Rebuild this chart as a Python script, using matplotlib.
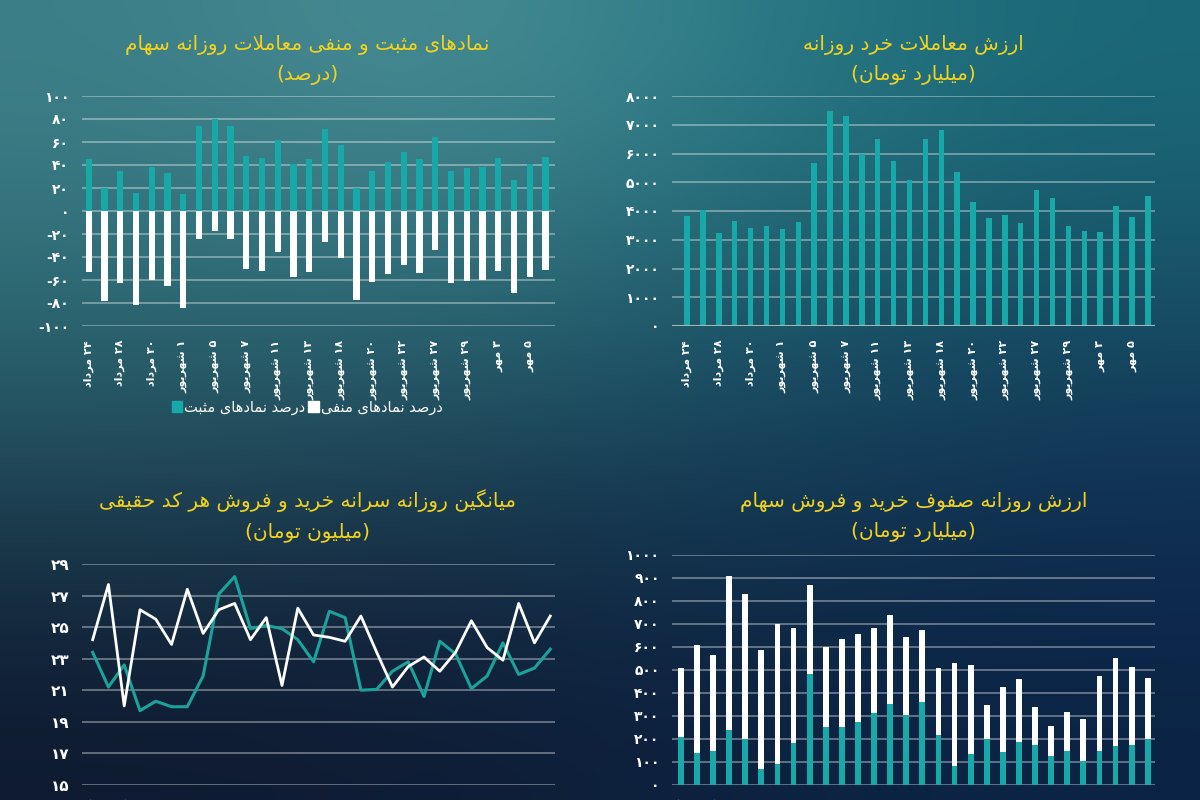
import numpy as np
import matplotlib
matplotlib.use("Agg")
import matplotlib.pyplot as plt
from matplotlib.patches import Patch
from matplotlib.ticker import FuncFormatter

plt.rcParams['font.family'] = ['DejaVu Sans']

# ---------------- data ----------------
DATE_LABELS = ["24 مرداد", "28 مرداد", "30 مرداد", "1 شهریور", "5 شهریور",
               "7 شهریور", "11 شهریور", "13 شهریور", "18 شهریور", "20 شهریور",
               "22 شهریور", "27 شهریور", "29 شهریور", "3 مهر", "5 مهر"]
N_DAYS = 30

positive_pct = [45, 20, 35, 16, 38, 33, 15, 74, 80, 74, 48, 46, 62, 41, 45,
                71, 57, 20, 35, 43, 51, 45, 64, 35, 37, 38, 46, 27, 41, 47]
negative_pct = [-53, -78, -63, -82, -60, -65, -84, -24, -17, -24, -50, -52, -36, -57, -53,
                -27, -41, -77, -62, -55, -47, -54, -34, -63, -61, -60, -52, -71, -57, -51]

retail_value = [3830, 4040, 3240, 3650, 3410, 3480, 3380, 3620, 5670, 7480,
                7300, 5980, 6500, 5740, 5080, 6500, 6820, 5360, 4310, 3760,
                3860, 3580, 4730, 4450, 3480, 3300, 3270, 4170, 3790, 4520]

per_capita_buy = [23.4, 21.2, 22.6, 19.7, 20.3, 19.95, 19.95, 21.9, 27.1, 28.2,
                  24.9, 25.1, 24.9, 24.2, 22.8, 26.0, 25.6, 21.0, 21.05, 22.2,
                  22.8, 20.6, 24.1, 23.3, 21.1, 21.9, 24.0, 22.0, 22.4, 23.6]
per_capita_sell = [24.2, 27.7, 20.0, 26.1, 25.5, 23.9, 27.4, 24.6, 26.1, 26.5,
                   24.2, 25.6, 21.3, 26.2, 24.5, 24.35, 24.1, 25.7, 23.4, 21.2,
                   22.5, 23.1, 22.2, 23.4, 25.4, 23.7, 22.9, 26.5, 24.0, 25.7]

buy_queue = [208, 137, 149, 240, 201, 69, 90, 182, 483, 253,
             253, 274, 311, 353, 302, 359, 217, 81, 133, 197,
             142, 188, 175, 124, 149, 104, 149, 168, 174, 201]
sell_queue = [300, 469, 417, 666, 628, 516, 608, 501, 387, 348,
              381, 382, 371, 385, 339, 315, 290, 449, 389, 152,
              285, 271, 161, 131, 166, 180, 323, 382, 340, 264]

TITLES = [
    "نمادهای مثبت و منفی معاملات روزانه سهام\n(درصد)",
    "ارزش معاملات خرد روزانه\n(میلیارد تومان)",
    "میانگین روزانه سرانه خرید و فروش هر کد حقیقی\n(میلیون تومان)",
    "ارزش روزانه صفوف خرید و فروش سهام\n(میلیارد تومان)",
]
LEGEND_LABELS = ["درصد نمادهای مثبت", "درصد نمادهای منفی"]

TEAL = "#17a9a8"
LINE_TEAL = "#1aa39a"
YELLOW = "#f1d21d"

# ---------------- persian shaping (no reshaper lib available) ----------------
FORMS = {
    'ا': ('\uFE8D', '\uFE8E', None, None), 'آ': ('\uFE81', '\uFE82', None, None),
    'ب': ('\uFE8F', '\uFE90', '\uFE91', '\uFE92'), 'پ': ('\uFB56', '\uFB57', '\uFB58', '\uFB59'),
    'ت': ('\uFE95', '\uFE96', '\uFE97', '\uFE98'), 'ث': ('\uFE99', '\uFE9A', '\uFE9B', '\uFE9C'),
    'ج': ('\uFE9D', '\uFE9E', '\uFE9F', '\uFEA0'), 'چ': ('\uFB7A', '\uFB7B', '\uFB7C', '\uFB7D'),
    'ح': ('\uFEA1', '\uFEA2', '\uFEA3', '\uFEA4'), 'خ': ('\uFEA5', '\uFEA6', '\uFEA7', '\uFEA8'),
    'د': ('\uFEA9', '\uFEAA', None, None), 'ذ': ('\uFEAB', '\uFEAC', None, None),
    'ر': ('\uFEAD', '\uFEAE', None, None), 'ز': ('\uFEAF', '\uFEB0', None, None),
    'ژ': ('\uFB8A', '\uFB8B', None, None),
    'س': ('\uFEB1', '\uFEB2', '\uFEB3', '\uFEB4'), 'ش': ('\uFEB5', '\uFEB6', '\uFEB7', '\uFEB8'),
    'ص': ('\uFEB9', '\uFEBA', '\uFEBB', '\uFEBC'), 'ض': ('\uFEBD', '\uFEBE', '\uFEBF', '\uFEC0'),
    'ط': ('\uFEC1', '\uFEC2', '\uFEC3', '\uFEC4'), 'ظ': ('\uFEC5', '\uFEC6', '\uFEC7', '\uFEC8'),
    'ع': ('\uFEC9', '\uFECA', '\uFECB', '\uFECC'), 'غ': ('\uFECD', '\uFECE', '\uFECF', '\uFED0'),
    'ف': ('\uFED1', '\uFED2', '\uFED3', '\uFED4'), 'ق': ('\uFED5', '\uFED6', '\uFED7', '\uFED8'),
    'ک': ('\uFB8E', '\uFB8F', '\uFB90', '\uFB91'), 'گ': ('\uFB92', '\uFB93', '\uFB94', '\uFB95'),
    'ل': ('\uFEDD', '\uFEDE', '\uFEDF', '\uFEE0'), 'م': ('\uFEE1', '\uFEE2', '\uFEE3', '\uFEE4'),
    'ن': ('\uFEE5', '\uFEE6', '\uFEE7', '\uFEE8'), 'ه': ('\uFEE9', '\uFEEA', '\uFEEB', '\uFEEC'),
    'و': ('\uFEED', '\uFEEE', None, None), 'ی': ('\uFBFC', '\uFBFD', '\uFBFE', '\uFBFF'),
}
FA_DIGITS = str.maketrans("0123456789", "۰۱۲۳۴۵۶۷۸۹")
DIGITS = set("۰۱۲۳۴۵۶۷۸۹0123456789")


def dual(c):
    return c in FORMS and FORMS[c][2] is not None


def shape_line(line):
    chars = list(line.translate(FA_DIGITS))
    out = []
    i = 0
    while i < len(chars):
        c = chars[i]
        prev = chars[i - 1] if i > 0 else None
        nxt = chars[i + 1] if i + 1 < len(chars) else None
        jp = dual(prev)
        if c == 'ل' and nxt == 'ا':
            out.append('\uFEFC' if jp else '\uFEFB')
            i += 2
            continue
        if c not in FORMS:
            out.append(c)
        else:
            jn = dual(c) and nxt in FORMS
            iso, fin, ini, med = FORMS[c]
            if jp and jn:
                out.append(med)
            elif jp:
                out.append(fin)
            elif jn:
                out.append(ini)
            else:
                out.append(iso)
        i += 1
    vis = out[::-1]
    vis = [{'(': ')', ')': '('}.get(ch, ch) for ch in vis]
    # put digit runs back in LTR order
    res, run = [], []
    for ch in vis + [None]:
        if ch is not None and ch in DIGITS:
            run.append(ch)
        else:
            res.extend(run[::-1])
            run = []
            if ch is not None:
                res.append(ch)
    return ''.join(res)


def fa(text):
    return '\n'.join(shape_line(s) for s in text.split('\n'))


def fa_num(v, pos=None):
    v = int(round(v))
    s = str(abs(v)).translate(FA_DIGITS)
    return ('-' + s) if v < 0 else s


# ---------------- figure & background ----------------
fig = plt.figure(figsize=(12, 8), dpi=100)
bg = fig.add_axes([0, 0, 1, 1], zorder=-10)
grad = np.array([
    [[61, 127, 136], [74, 142, 150], [43, 123, 134], [26, 104, 120]],
    [[44, 106, 116], [46, 108, 118], [28, 90, 108], [24, 80, 102]],
    [[30, 64, 82], [26, 56, 78], [20, 56, 82], [16, 46, 82]],
    [[14, 26, 48], [15, 28, 54], [12, 34, 64], [11, 36, 70]],
]) / 255.0
bg.imshow(grad, extent=[0, 1, 0, 1], aspect='auto', interpolation='bicubic', origin='upper')
bg.set_xlim(0, 1)
bg.set_ylim(0, 1)
bg.axis('off')

x = np.arange(N_DAYS)
tick_pos = x[::2]
tick_lab = [fa(s) for s in DATE_LABELS]


def style(ax, ylim, yticks, xlim):
    ax.set_facecolor('none')
    for s in ax.spines.values():
        s.set_visible(False)
    ax.set_ylim(*ylim)
    ax.set_xlim(*xlim)
    ax.set_yticks(yticks)
    ax.yaxis.set_major_formatter(FuncFormatter(fa_num))
    ax.grid(axis='y', color='white', alpha=0.45, linewidth=1.1)
    ax.set_axisbelow(True)
    ax.set_xticks(tick_pos)
    ax.set_xticklabels(tick_lab, rotation=90, fontsize=8, fontweight='bold', color='white')
    ax.tick_params(axis='both', length=0, colors='white')
    ax.tick_params(axis='y', pad=9, labelsize=10)
    ax.tick_params(axis='x', pad=10)
    for t in ax.get_yticklabels():
        t.set_fontweight('bold')


def title(xc, y1, text):
    fig.text(xc, y1, fa(text), ha='center', va='center', color=YELLOW,
             fontsize=14.5, linespacing=1.7)


# top-left: positive / negative symbols
ax1 = fig.add_axes([0.068, 0.5925, 0.3945, 0.2875])
style(ax1, (-100, 100), range(-100, 101, 20), (-0.45, 29.6))
ax1.bar(x, positive_pct, width=0.4, color=TEAL, zorder=3)
ax1.bar(x, negative_pct, width=0.4, color='white', zorder=3)
title(0.256, 0.925, TITLES[0])
fig.legend(handles=[Patch(color=TEAL), Patch(color='white')],
           labels=[fa(s) for s in LEGEND_LABELS], loc='center',
           bbox_to_anchor=(0.256, 0.491), ncol=2, frameon=False,
           handlelength=0.7, handleheight=0.7, handletextpad=0.15,
           columnspacing=0.2, labelcolor='white', fontsize=10.5)

# top-right: retail trading value
ax2 = fig.add_axes([0.56, 0.5925, 0.4025, 0.2875])
style(ax2, (0, 8000), range(0, 8001, 1000), (-0.95, 29.45))
ax2.bar(x, retail_value, width=0.34, color=TEAL, zorder=3)
ax2.axhline(0, color='#a8b4bc', linewidth=1.5, zorder=4)
title(0.761, 0.925, TITLES[1])

# bottom-left: per-capita lines
ax3 = fig.add_axes([0.068, 0.019, 0.3945, 0.276])
style(ax3, (15, 29), range(15, 30, 2), (-0.7, 29.3))
ax3.plot(x, per_capita_buy, color=LINE_TEAL, linewidth=2.2, zorder=3)
ax3.plot(x, per_capita_sell, color='white', linewidth=2.0, zorder=4)
ax3.tick_params(axis='y', labelsize=11)
title(0.256, 0.356, TITLES[2])

# bottom-right: queues stacked
ax4 = fig.add_axes([0.56, 0.019, 0.4025, 0.2876])
style(ax4, (0, 1000), range(0, 1001, 100), (-0.55, 29.45))
ax4.bar(x, buy_queue, width=0.36, color=TEAL, zorder=3)
ax4.bar(x, sell_queue, width=0.36, bottom=buy_queue, color='white', zorder=3)
title(0.761, 0.354, TITLES[3])

fig.savefig("out.png", dpi=100)
